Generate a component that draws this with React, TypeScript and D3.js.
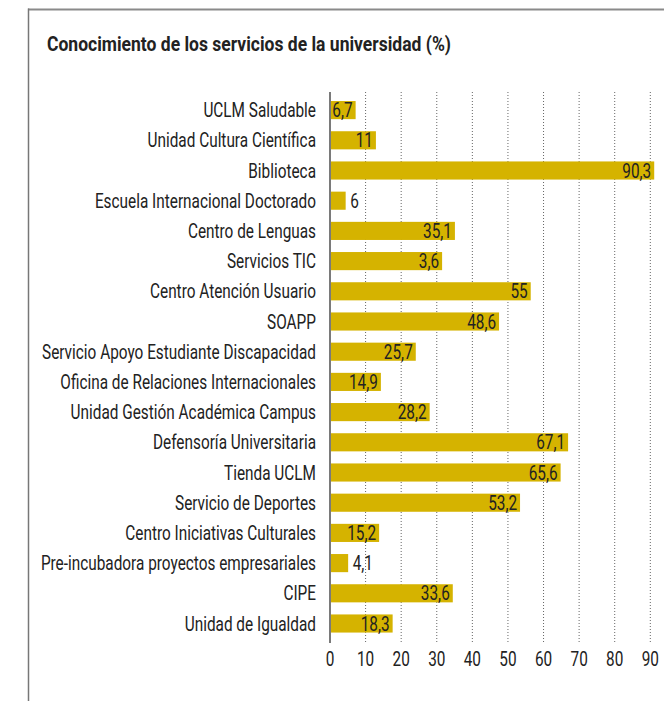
import React from "react";
import * as d3 from "d3";

const title = "Conocimiento de los servicios de la universidad (%)";

const categories = [
  "UCLM Saludable",
  "Unidad Cultura Científica",
  "Biblioteca",
  "Escuela Internacional Doctorado",
  "Centro de Lenguas",
  "Servicios TIC",
  "Centro Atención Usuario",
  "SOAPP",
  "Servicio Apoyo Estudiante Discapacidad",
  "Oficina de Relaciones Internacionales",
  "Unidad Gestión Académica Campus",
  "Defensoría Universitaria",
  "Tienda UCLM",
  "Servicio de Deportes",
  "Centro Iniciativas Culturales",
  "Pre-incubadora proyectos empresariales",
  "CIPE",
  "Unidad de Igualdad",
];

// printed value labels (as shown in the chart)
const printedValues = [
  "6,7", "11", "90,3", "6", "35,1", "3,6", "55", "48,6", "25,7",
  "14,9", "28,2", "67,1", "65,6", "53,2", "15,2", "4,1", "33,6", "18,3",
];

// bar lengths as drawn in the picture (axis units)
const barLengths = [
  7.2, 12.9, 91.1, 4.4, 35.1, 31.5, 56.4, 47.5, 24.1,
  14.3, 28.0, 66.9, 64.8, 53.4, 13.8, 5.1, 34.5, 17.6,
];

const labelOutside = ["Escuela Internacional Doctorado", "Pre-incubadora proyectos empresariales"];

const xTicks = [0, 10, 20, 30, 40, 50, 60, 70, 80, 90];

const W = 664;
const H = 701;
const BAR = "#D5B300";
const TXT = "#222";
const FONT = "Roboto, 'Noto Sans', sans-serif";
const FS = 20.5;

function measure(text: string, font: string): number {
  if (typeof document === "undefined") return text.length * 9;
  const c = document.createElement("canvas");
  const ctx = c.getContext("2d");
  if (!ctx) return text.length * 9;
  ctx.font = font;
  return ctx.measureText(text).width;
}

export default function App() {
  const x = d3.scaleLinear().domain([0, 90]).range([330, 650.3]);
  const y = d3
    .scaleBand<string>()
    .domain(categories)
    .range([95, 638.6])
    .paddingInner(0.4)
    .paddingOuter(0.2);
  const bw = y.bandwidth();

  const longest = categories.reduce((a, b) => (b.length > a.length ? b : a), "");
  const k = 274 / measure(longest, `${FS}px Roboto`);

  const gridTop = 92;
  const gridBottom = 643;

  const SText = ({ tx, ty, anchor, children, fs = FS }: any) => (
    <g transform={`translate(${tx},${ty}) scale(${k},1)`}>
      <text x={0} y={0} textAnchor={anchor} fontFamily={FONT} fontSize={fs} fill={TXT}>
        {children}
      </text>
    </g>
  );

  return (
    <svg
      width={W}
      height={H}
      style={{ position: "absolute", left: 0, top: 0, background: "#fff" }}
    >
      <rect x={0} y={0} width={W} height={H} fill="#fff" />
      {/* frame */}
      <line x1={28} x2={W} y1={9.5} y2={9.5} stroke="#8a8a8a" strokeWidth={2} />
      <line x1={28.5} x2={28.5} y1={8.5} y2={H} stroke="#777" strokeWidth={1.5} />

      {/* title */}
      <text
        x={47}
        y={51}
        fontFamily={FONT}
        fontWeight={700}
        fontSize={20}
        fill={TXT}
        textLength={404}
        lengthAdjust="spacingAndGlyphs"
      >
        {title}
      </text>

      {/* grid */}
      {xTicks
        .filter((t) => t !== 0)
        .map((t) => (
          <line
            key={t}
            x1={x(t)}
            x2={x(t)}
            y1={gridTop}
            y2={gridBottom}
            stroke="#666"
            strokeWidth={1}
            strokeDasharray="1,2"
          />
        ))}

      {/* bars */}
      {categories.map((c, i) => (
        <rect
          key={c}
          x={x(0)}
          y={y(c)}
          width={x(barLengths[i]) - x(0)}
          height={bw}
          fill={BAR}
        />
      ))}

      {/* axis line */}
      <line x1={x(0)} x2={x(0)} y1={gridTop} y2={gridBottom} stroke="#7a7a7a" strokeWidth={2} />

      {/* category labels */}
      {categories.map((c) => (
        <SText key={c} tx={316} ty={(y(c) as number) + bw / 2 + 7.1} anchor="end">
          {c}
        </SText>
      ))}

      {/* value labels */}
      {categories.map((c, i) => {
        const out = labelOutside.includes(c);
        const end = x(barLengths[i]);
        return (
          <SText
            key={c}
            tx={out ? end + 4.5 : end - 3}
            ty={(y(c) as number) + bw / 2 + 7.1}
            anchor={out ? "start" : "end"}
          >
            {printedValues[i]}
          </SText>
        );
      })}

      {/* tick labels */}
      {xTicks.map((t) => (
        <SText key={t} tx={x(t)} ty={666} anchor="middle">
          {String(t)}
        </SText>
      ))}
    </svg>
  );
}
